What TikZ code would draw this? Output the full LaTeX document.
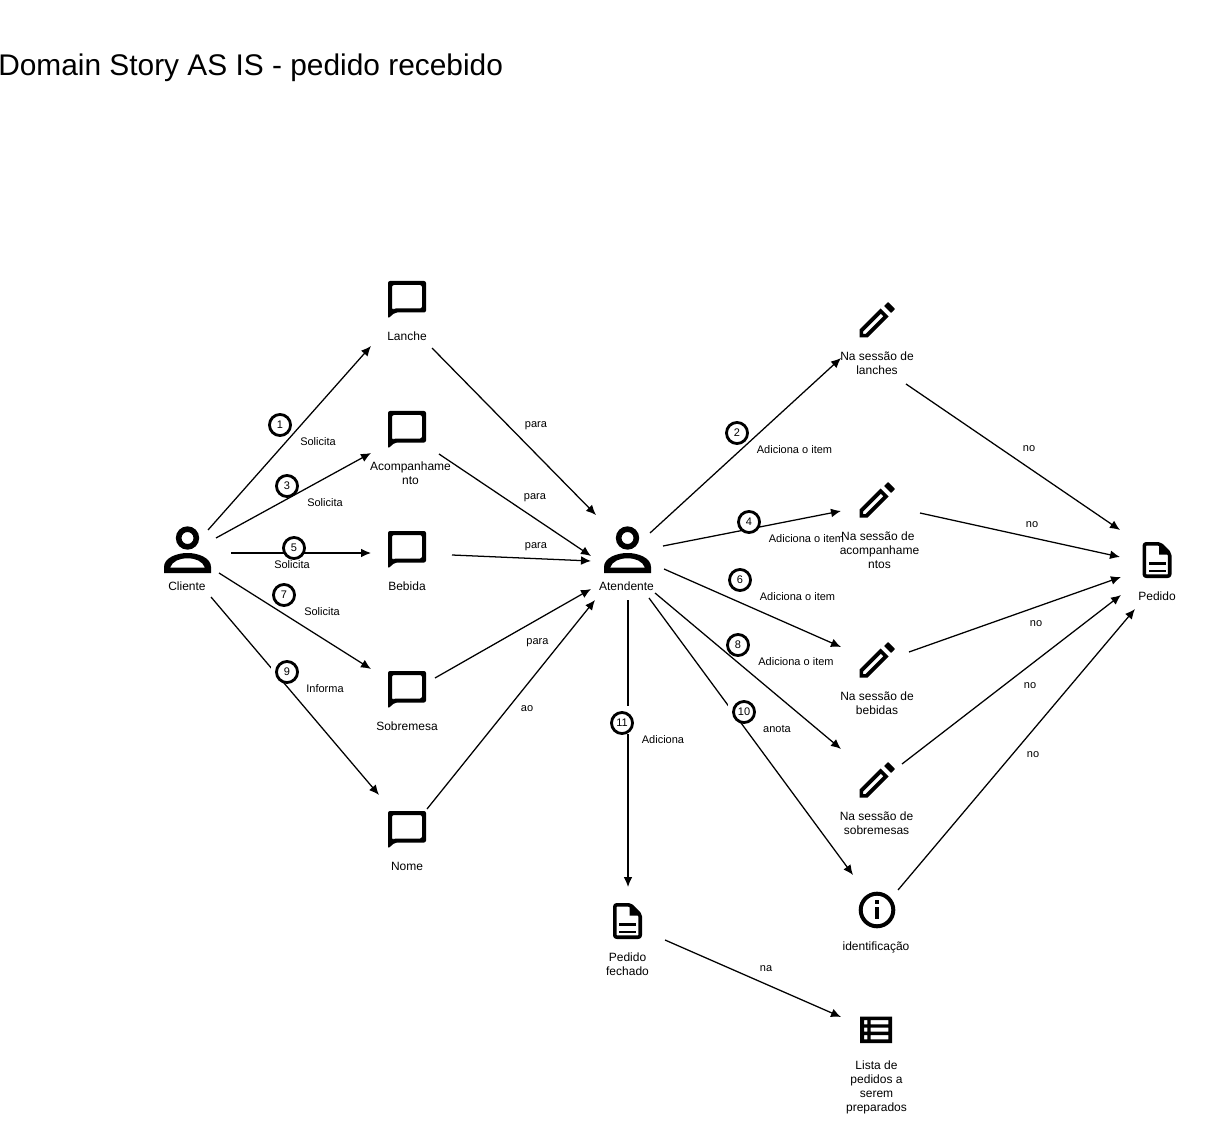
\documentclass[tikz,border=0pt]{standalone}
\usepackage{fontspec}
\setmainfont{Liberation Sans}
\usetikzlibrary{arrows.meta,calc}
\tikzset{
  conn/.style={draw=black,line width=0.95pt,-{Latex[length=7.5pt,width=6.6pt]}},
  edgelab/.style={font=\fontsize{8.25}{10}\selectfont,inner sep=0pt,text=black,yshift=-0.75pt},
  objlab/.style={font=\fontsize{9}{10.5}\selectfont,inner sep=0pt,align=center,text=black},
  numcirc/.style={circle,draw=black,fill=white,line width=2.1pt,minimum size=15.8pt,inner sep=0pt,font=\fontsize{8.25}{9}\selectfont},
  iconbox/.style={inner sep=0pt,minimum size=0pt},
  person/.pic={
    \fill[even odd rule] (0,-12) circle (11.7) (0,-12) circle (6);
    \fill[even odd rule] (-23.5,23) -- (-23.5,17) .. controls (-23.5,8) and (-11,3) .. (0,3)
      .. controls (11,3) and (23.5,8) .. (23.5,17) -- (23.5,23) -- cycle
      (-17.5,17.7) .. controls (-15,11) and (-8,8.3) .. (0,8.3)
      .. controls (8,8.3) and (15,11) .. (17.5,17.7) -- cycle;
  },
  bubble/.pic={
    \fill[even odd rule,rounded corners=1.5pt] (-19,-19) -- (19,-19) -- (19,12.5) -- (-12,12.5) -- (-19,18.5) -- cycle
      (-15,-15) -- (15,-15) -- (15,8.5) -- (-13.5,8.5) -- (-15,10) -- cycle;
  },
  pencil/.pic={
    \fill[even odd rule] (-17.5,17.5) -- (-17.5,9.5) -- (3.5,-11.5) -- (11.5,-3.5) -- (-9.5,17.5) -- cycle
      (-14,14) -- (-14,11.5) -- (3.8,-6.3) -- (6.3,-3.8) -- (-11.5,14) -- cycle;
    \fill[rounded corners=0.5pt] (11,-18) -- (18,-11) -- (14,-7) -- (7,-14) -- cycle;
  },
  docicon/.pic={
    \draw[line width=2.7pt,line join=round,rounded corners=1.5pt]
      (-12.7,-16.2) -- (3,-16.2) -- (12.7,-6.5) -- (12.7,16.2) -- (-12.7,16.2) -- cycle;
    \fill (2,-16.2) -- (2,-5.5) -- (12.7,-5.5) -- cycle;
    \fill (-8.5,2) rectangle (8.5,4.6);
    \fill (-8.5,9.5) rectangle (8.5,12);
  },
  infoicon/.pic={
    \draw[line width=3pt] (0,0) circle (16.3);
    \fill (-2,-10) rectangle (2,-6);
    \fill (-2,-3) rectangle (2,9);
  },
  tableicon/.pic={
    \fill[even odd rule] (-16,-13.3) rectangle (16,13)
      (-12,-10) rectangle (-8.7,-5.7) (-5.3,-10) rectangle (12.3,-5.7)
      (-12,-2.3) rectangle (-8.7,1.7) (-5.3,-2.3) rectangle (12.3,1.7)
      (-12,5) rectangle (-8.7,9.3) (-5.3,5) rectangle (12.3,9.3);
  },
}
\begin{document}
\begin{tikzpicture}[x=0.75pt,y=-0.75pt]
\useasboundingbox (0,0) rectangle (1217,1130);
\fill[white] (0,0) rectangle (1217,1130);

% title
\node[anchor=west,inner sep=0pt,font=\fontsize{22.4}{27}\selectfont] (title) at (-2,68) {Domain Story AS IS - pedido recebido};

% icons
\node[iconbox] (cli) at (187.5,550) {};
\node[iconbox] (ate) at (627.5,550) {};
\node[iconbox] (lan) at (407,300) {};
\node[iconbox] (aco) at (407,430) {};
\node[iconbox] (beb) at (407,550) {};
\node[iconbox] (sob) at (407,690) {};
\node[iconbox] (nom) at (407,830) {};
\node[iconbox] (pl) at (877,320) {};
\node[iconbox] (pa) at (877,500) {};
\node[iconbox] (pb) at (877,660) {};
\node[iconbox] (ps) at (877,780) {};
\node[iconbox] (ide) at (877,910) {};
\node[iconbox] (ped) at (1157,560) {};
\node[iconbox] (fec) at (627.5,921) {};
\node[iconbox] (lis) at (876,1030) {};

\pic at (cli) {person};
\pic at (ate) {person};
\pic at (lan) {bubble};
\pic at (aco) {bubble};
\pic at (beb) {bubble};
\pic at (sob) {bubble};
\pic at (nom) {bubble};
\pic at (pl) {pencil};
\pic at (pa) {pencil};
\pic at (pb) {pencil};
\pic at (ps) {pencil};
\pic at (ide) {infoicon};
\pic at (ped) {docicon};
\pic at (fec) {docicon};
\pic at (lis) {tableicon};

% object labels
\node[objlab] (lcli) at (187,586) {Cliente};
\node[objlab] (late) at (626.5,586) {Atendente};
\node[objlab] (llan) at (407,336) {Lanche};
\node[objlab] (laco) at (410.5,473) {Acompanhame\\nto};
\node[objlab] (lbeb) at (407,586) {Bebida};
\node[objlab] (lsob) at (407,726) {Sobremesa};
\node[objlab] (lnom) at (407,866) {Nome};
\node[objlab] (lpl) at (877,363) {Na sessão de\\lanches};
\node[objlab] (lpa) at (879.5,550) {\mbox{Na sessão de\ }\\acompanhame\\ntos};
\node[objlab] (lpb) at (877,703) {Na sessão de\\bebidas};
\node[objlab] (lps) at (876.5,823) {Na sessão de\\sobremesas};
\node[objlab] (lide) at (876,947) {identificação};
\node[objlab] (lped) at (1157,596) {Pedido};
\node[objlab] (lfec) at (627.5,964) {Pedido\\fechado};
\node[objlab] (llis) at (876.5,1087.5) {Lista de\\pedidos a\\serem\\preparados};

% connectors
\draw[conn] ($(cli)+(20.5,-20)$) -- ($(lan)+(-36,46)$);
\draw[conn] ($(cli)+(28.5,-12)$) -- ($(aco)+(-36,23)$);
\draw[conn] ($(cli)+(43.5,3)$) -- ($(beb)+(-36,3)$);
\draw[conn] ($(cli)+(31.5,23)$) -- ($(sob)+(-36,-21)$);
\draw[conn] ($(cli)+(23.5,47)$) -- ($(nom)+(-28,-35)$);
\draw[conn] ($(lan)+(25,48)$) -- ($(ate)+(-31.5,-35)$);
\draw[conn] ($(aco)+(32,24)$) -- ($(ate)+(-36.5,6)$);
\draw[conn] ($(beb)+(45,5)$) -- ($(ate)+(-36.5,11)$);
\draw[conn] ($(sob)+(28,-12)$) -- ($(ate)+(-36.5,39)$);
\draw[conn] ($(nom)+(20,-21)$) -- ($(ate)+(-32.5,50)$);
\draw[conn] ($(ate)+(22.5,-17)$) -- ($(pl)+(-36,38)$);
\draw[conn] ($(ate)+(35.5,-4)$) -- ($(pa)+(-36,11)$);
\draw[conn] ($(ate)+(36.5,19)$) -- ($(pb)+(-36,-13)$);
\draw[conn] ($(ate)+(27.5,43)$) -- ($(ps)+(-36,-31)$);
\draw[conn] ($(ate)+(21.5,48)$) -- ($(ide)+(-24,-35)$);
\draw[conn] ($(ate)+(0.5,50)$) -- ($(fec)+(0.5,-34)$);
\draw[conn] ($(pl)+(29,64)$) -- ($(ped)+(-37,-30)$);
\draw[conn] ($(pa)+(43,13)$) -- ($(ped)+(-37,-3)$);
\draw[conn] ($(pb)+(32,-8)$) -- ($(ped)+(-36,17)$);
\draw[conn] ($(ps)+(25,-16)$) -- ($(ped)+(-36,35)$);
\draw[conn] ($(ide)+(21,-20)$) -- ($(ped)+(-22,49)$);
\draw[conn] ($(fec)+(37.5,19)$) -- ($(lis)+(-35,-13)$);

% white masks behind some number circles
\fill[white] (287,672) ++(-16,-17) rectangle ++(27,28);
\fill[white] (744,712) ++(-16,-17) rectangle ++(27,28);
\fill[white] (622,723) ++(-16,-17) rectangle ++(27,28);

% number circles
\node[numcirc] (n1) at (280,425) {1};
\node[numcirc] (n2) at (737,433) {2};
\node[numcirc] (n3) at (287,486) {3};
\node[numcirc] (n4) at (749,522) {4};
\node[numcirc] (n5) at (294,548) {5};
\node[numcirc] (n6) at (740,580) {6};
\node[numcirc] (n7) at (284,595) {7};
\node[numcirc] (n8) at (738,645) {8};
\node[numcirc] (n9) at (287,672) {9};
\node[numcirc] (n10) at (744,712) {10};
\node[numcirc] (n11) at (622,723) {11};

% edge labels
\node[edgelab] (e1) at (318,441) {Solicita};
\node[edgelab] (e3) at (325,502) {Solicita};
\node[edgelab] (e5) at (292,564) {Solicita};
\node[edgelab] (e7) at (322,611) {Solicita};
\node[edgelab] (e9) at (325,688) {Informa};
\node[edgelab] (e2) at (794.5,449) {Adiciona o item};
\node[edgelab] (e4) at (806.5,538) {Adiciona o item};
\node[edgelab] (e6) at (797.5,596) {Adiciona o item};
\node[edgelab] (e8) at (796,661) {Adiciona o item};
\node[edgelab] (e10) at (777,728) {anota};
\node[edgelab] (e11) at (663,739) {Adiciona};
\node[edgelab] (p1) at (536,425) {para};
\node[edgelab] (p2) at (535,497) {para};
\node[edgelab] (p3) at (536,546) {para};
\node[edgelab] (p4) at (537.5,642) {para};
\node[edgelab] (ao) at (527,708) {ao};
\node[edgelab] (no1) at (1029,448) {no};
\node[edgelab] (no2) at (1032,524) {no};
\node[edgelab] (no3) at (1036,623) {no};
\node[edgelab] (no4) at (1030,685) {no};
\node[edgelab] (no5) at (1033,754) {no};
\node[edgelab] (na) at (766,968) {na};
\end{tikzpicture}
\end{document}
